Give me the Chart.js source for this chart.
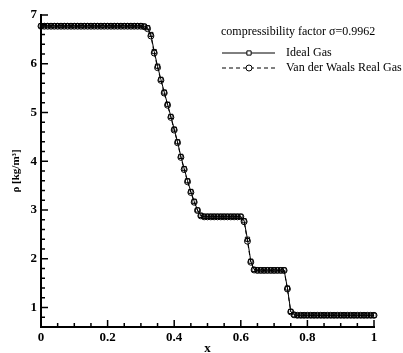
<!DOCTYPE html>
<html>
<head>
<meta charset="utf-8">
<script src="https://cdn.jsdelivr.net/npm/chart.js@4/dist/chart.umd.min.js"></script>
<style>
  html, body { margin: 0; padding: 0; background: #fff; }
</style>
</head>
<body>
<canvas id="c" width="403" height="353"></canvas>
<script>
// positions along the tube
const xs = [
  0.00, 0.01, 0.02, 0.03, 0.04, 0.05, 0.06, 0.07, 0.08, 0.09,
  0.10, 0.11, 0.12, 0.13, 0.14, 0.15, 0.16, 0.17, 0.18, 0.19,
  0.20, 0.21, 0.22, 0.23, 0.24, 0.25, 0.26, 0.27, 0.28, 0.29,
  0.30, 0.31, 0.32, 0.33, 0.34, 0.35, 0.36, 0.37, 0.38, 0.39,
  0.40, 0.41, 0.42, 0.43, 0.44, 0.45, 0.46, 0.47, 0.48, 0.49,
  0.50, 0.51, 0.52, 0.53, 0.54, 0.55, 0.56, 0.57, 0.58, 0.59,
  0.60, 0.61, 0.62, 0.63, 0.64, 0.65, 0.66, 0.67, 0.68, 0.69,
  0.70, 0.71, 0.72, 0.73, 0.74, 0.75, 0.76, 0.77, 0.78, 0.79,
  0.80, 0.81, 0.82, 0.83, 0.84, 0.85, 0.86, 0.87, 0.88, 0.89,
  0.90, 0.91, 0.92, 0.93, 0.94, 0.95, 0.96, 0.97, 0.98, 0.99,
  1.00
]

// density, ideal gas
const idealGas = [
  6.78, 6.78, 6.78, 6.78, 6.78, 6.78, 6.78, 6.78, 6.78, 6.78,
  6.78, 6.78, 6.78, 6.78, 6.78, 6.78, 6.78, 6.78, 6.78, 6.78,
  6.78, 6.78, 6.78, 6.78, 6.78, 6.78, 6.78, 6.78, 6.78, 6.78,
  6.78, 6.77, 6.74, 6.60, 6.25, 5.95, 5.68, 5.42, 5.17, 4.92,
  4.66, 4.40, 4.10, 3.85, 3.60, 3.38, 3.18, 3.00, 2.89, 2.87,
  2.87, 2.87, 2.87, 2.87, 2.87, 2.87, 2.87, 2.87, 2.87, 2.87,
  2.87, 2.78, 2.40, 1.95, 1.78, 1.77, 1.77, 1.77, 1.77, 1.77,
  1.77, 1.77, 1.77, 1.77, 1.40, 0.92, 0.85, 0.84, 0.84, 0.84,
  0.84, 0.84, 0.84, 0.84, 0.84, 0.84, 0.84, 0.84, 0.84, 0.84,
  0.84, 0.84, 0.84, 0.84, 0.84, 0.84, 0.84, 0.84, 0.84, 0.84,
  0.84
]

// density, van der Waals real gas
const vdwGas = [
  6.77, 6.77, 6.77, 6.77, 6.77, 6.77, 6.77, 6.77, 6.77, 6.77,
  6.77, 6.77, 6.77, 6.77, 6.77, 6.77, 6.77, 6.77, 6.77, 6.77,
  6.77, 6.77, 6.77, 6.77, 6.77, 6.77, 6.77, 6.77, 6.77, 6.77,
  6.77, 6.76, 6.72, 6.57, 6.22, 5.92, 5.66, 5.40, 5.15, 4.90,
  4.64, 4.38, 4.08, 3.83, 3.58, 3.36, 3.16, 2.99, 2.88, 2.86,
  2.86, 2.86, 2.86, 2.86, 2.86, 2.86, 2.86, 2.86, 2.86, 2.86,
  2.86, 2.76, 2.36, 1.93, 1.77, 1.76, 1.76, 1.76, 1.76, 1.76,
  1.76, 1.76, 1.76, 1.76, 1.38, 0.91, 0.85, 0.84, 0.84, 0.84,
  0.84, 0.84, 0.84, 0.84, 0.84, 0.84, 0.84, 0.84, 0.84, 0.84,
  0.84, 0.84, 0.84, 0.84, 0.84, 0.84, 0.84, 0.84, 0.84, 0.84,
  0.84
]

const xMajor = [0, 0.2, 0.4, 0.6, 0.8, 1]
const xMinor = [0.05, 0.1, 0.15, 0.25, 0.3, 0.35, 0.45, 0.5, 0.55, 0.65, 0.7, 0.75, 0.85, 0.9, 0.95]
const yMajor = [1, 2, 3, 4, 5, 6, 7]
const yMinor = [0.8, 1.2, 1.4, 1.6, 1.8, 2.2, 2.4, 2.6, 2.8, 3.2, 3.4, 3.6, 3.8,
  4.2, 4.4, 4.6, 4.8, 5.2, 5.4, 5.6, 5.8, 6.2, 6.4, 6.6, 6.8]

const legendTitle = 'compressibility factor σ=0.9962'
const serif = "'Liberation Serif', 'DejaVu Serif', serif"

const inwardTicks = {
  id: 'inwardTicks',
  afterDatasetsDraw (chart) {
    const { ctx, chartArea, scales: { x, y } } = chart
    ctx.save()
    ctx.strokeStyle = '#000'
    ctx.lineWidth = 1.5
    const tick = (x1, y1, x2, y2) => {
      ctx.beginPath(); ctx.moveTo(x1, y1); ctx.lineTo(x2, y2); ctx.stroke()
    }
    xMajor.forEach(v => { const p = x.getPixelForValue(v); tick(p, chartArea.bottom, p, chartArea.bottom - 7) })
    xMinor.forEach(v => { const p = x.getPixelForValue(v); tick(p, chartArea.bottom, p, chartArea.bottom - 4) })
    yMajor.forEach(v => { const p = y.getPixelForValue(v); tick(chartArea.left, p, chartArea.left + 7, p) })
    yMinor.forEach(v => { const p = y.getPixelForValue(v); tick(chartArea.left, p, chartArea.left + 4, p) })
    ctx.restore()
  }
}

const sampleLegend = {
  id: 'sampleLegend',
  afterDraw (chart) {
    const ctx = chart.ctx
    ctx.save()
    ctx.fillStyle = '#000'
    ctx.textBaseline = 'middle'
    ctx.font = '12px ' + serif
    ctx.fillText(legendTitle, 221, 32)
    const rows = [53, 68]
    chart.data.datasets.forEach((ds, i) => {
      const yy = rows[i]
      ctx.strokeStyle = '#000'
      ctx.lineWidth = 1
      ctx.setLineDash(ds.borderDash || [])
      ctx.beginPath(); ctx.moveTo(222, yy); ctx.lineTo(275, yy); ctx.stroke()
      ctx.setLineDash([])
      ctx.fillStyle = '#fff'
      Chart.helpers.drawPoint(ctx, { pointStyle: ds.pointStyle, radius: 3, borderWidth: 1, rotation: 0 }, 249, yy)
      ctx.fillStyle = '#000'
      ctx.fillText(ds.label, 286, yy)
    })
    ctx.restore()
  }
}

const toPoints = ys => xs.map((x, i) => ({ x, y: ys[i] }))

new Chart(document.getElementById('c'), {
  type: 'line',
  data: {
    datasets: [{
      label: 'Ideal Gas',
      data: toPoints(idealGas),
      borderColor: '#000',
      borderWidth: 1,
      pointStyle: 'rect',
      pointRadius: 3,
      pointBorderWidth: 1,
      pointBorderColor: '#000',
      pointBackgroundColor: 'rgba(255,255,255,0)',
      clip: false
    }, {
      label: 'Van der Waals Real Gas',
      data: toPoints(vdwGas),
      borderColor: '#000',
      borderWidth: 1,
      borderDash: [4, 3],
      pointStyle: 'circle',
      pointRadius: 3,
      pointBorderWidth: 1,
      pointBorderColor: '#000',
      pointBackgroundColor: 'rgba(255,255,255,0)',
      clip: false
    }]
  },
  options: {
    responsive: false,
    animation: false,
    layout: { padding: { top: 15, right: 29, left: 0, bottom: 0 } },
    plugins: { legend: { display: false }, tooltip: { enabled: false } },
    scales: {
      x: {
        type: 'linear',
        min: 0,
        max: 1,
        afterBuildTicks: s => { s.ticks = xMajor.map(v => ({ value: v })) },
        afterFit: s => { s.height = 26 },
        grid: { display: false, drawTicks: false },
        border: { display: true, color: '#000', width: 2 },
        ticks: { padding: 3, color: '#000', maxRotation: 0, font: { family: serif, size: 13, weight: 'bold' }, callback: v => String(v) },
        title: { display: true, text: 'x', color: '#000', padding: { top: 0, bottom: -3 }, font: { family: serif, size: 13, weight: 'bold' } }
      },
      y: {
        type: 'linear',
        min: 0.6,
        max: 7,
        afterBuildTicks: s => { s.ticks = yMajor.map(v => ({ value: v })) },
        afterFit: s => { s.width = 41 },
        grid: { display: false, drawTicks: false },
        border: { display: true, color: '#000', width: 2 },
        ticks: { padding: 4, color: '#000', font: { family: serif, size: 13, weight: 'bold' }, callback: v => String(v) },
        title: { display: true, text: 'ρ [kg/m³]', color: '#000', padding: { top: 10, bottom: 0 }, font: { family: serif, size: 11, weight: 'bold' } }
      }
    }
  },
  plugins: [inwardTicks, sampleLegend]
})
</script>
</body>
</html>
